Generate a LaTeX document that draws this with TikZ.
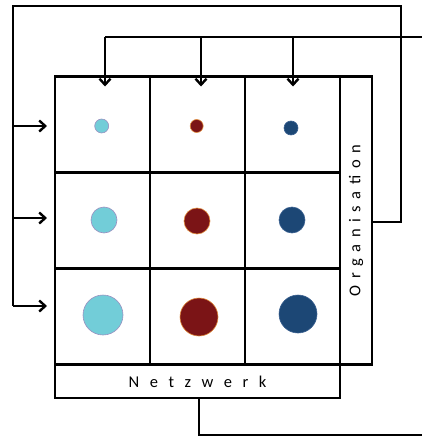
\documentclass[tikz,border=0pt]{standalone}
\usepackage{fontspec}
\setmainfont{Carlito}
\usetikzlibrary{arrows.meta}
\definecolor{cyanc}{HTML}{72CDD8}
\definecolor{cyanb}{HTML}{9A8FC0}
\definecolor{redc}{HTML}{7B1416}
\definecolor{redb}{HTML}{E08A3A}
\definecolor{bluec}{HTML}{1C4775}
\definecolor{blueb}{HTML}{3A6090}
\newcommand{\labfont}{\fontsize{16.5pt}{19pt}\selectfont}
\begin{document}
\begin{tikzpicture}[x=1pt,y=-1pt,line width=2.4pt,
  cell/.style={draw,minimum width=95pt,minimum height=96pt,inner sep=0pt,outer sep=0pt},
  dot/.style={circle,inner sep=0pt,line width=0.6pt},
  cy/.style={dot,fill=cyanc,draw=cyanb},
  rd/.style={dot,fill=redc,draw=redb},
  bl/.style={dot,fill=bluec,draw=blueb},
  arr/.style={-{Straight Barb[length=6pt,width=11pt,line width=2.4pt]}}]
\useasboundingbox (0,0) rectangle (422,436);
% grid cells
\node[cell] (c11) at (102.5,124.5) {};
\node[cell] (c12) at (197.5,124.5) {};
\node[cell] (c13) at (292.5,124.5) {};
\node[cell] (c21) at (102.5,220.5) {};
\node[cell] (c22) at (197.5,220.5) {};
\node[cell] (c23) at (292.5,220.5) {};
\node[cell] (c31) at (102.5,316.5) {};
\node[cell] (c32) at (197.5,316.5) {};
\node[cell] (c33) at (292.5,316.5) {};
% side boxes
\node[draw,minimum width=32pt,minimum height=288pt,inner sep=0pt] (org) at (356,220.5)
  {\rotatebox{90}{\labfont\addfontfeature{LetterSpace=40}Organisation}};
\node[draw,minimum width=285pt,minimum height=33pt,inner sep=0pt] (net) at (197.5,381.5)
  {\labfont\addfontfeature{LetterSpace=64}Netzwerk};
% dots
\node[cy,minimum size=14pt] (d11) at (101.7,126) {};
\node[rd,minimum size=13pt] (d12) at (196.7,126) {};
\node[bl,minimum size=14pt] (d13) at (291,128) {};
\node[cy,minimum size=26pt] (d21) at (104,220) {};
\node[rd,minimum size=26pt] (d22) at (197,221) {};
\node[bl,minimum size=26pt] (d23) at (292,220) {};
\node[cy,minimum size=40pt] (d31) at (103,315) {};
\node[rd,minimum size=38pt] (d32) at (199,317) {};
\node[bl,minimum size=38pt] (d33) at (298,314) {};
% feedback loop from Organisation to rows
\coordinate (oR) at (401,222);
\coordinate (oT) at (401,6);
\coordinate (oL) at (13,6);
\coordinate (oB) at (13,306);
\draw (org.east |- oR) -- (oR) -- (oT) -- (oL) -- (oB);
\coordinate (a1) at (13,126);
\coordinate (a2) at (13,218);
\coordinate (a3) at (13,306);
\draw[arr] (a1) -- ([xshift=-8pt]c11.west |- a1);
\draw[arr] (a2) -- ([xshift=-8pt]c21.west |- a2);
\draw[arr] (a3) -- ([xshift=-8pt]c31.west |- a3);
% top inputs
\coordinate (tR) at (422,37);
\coordinate (tL) at (105,37);
\draw (tR) -- (tL);
\coordinate (t2) at (201,37);
\coordinate (t3) at (293,37);
\draw[arr] (tL) -- ([yshift=-10pt]c11.north -| tL);
\draw[arr] (t2) -- ([yshift=-10pt]c12.north -| t2);
\draw[arr] (t3) -- ([yshift=-10pt]c13.north -| t3);
% bottom output from Netzwerk
\coordinate (bB) at (199,435);
\coordinate (bR) at (422,435);
\draw (net.south -| bB) -- (bB) -- (bR);
\end{tikzpicture}
\end{document}
